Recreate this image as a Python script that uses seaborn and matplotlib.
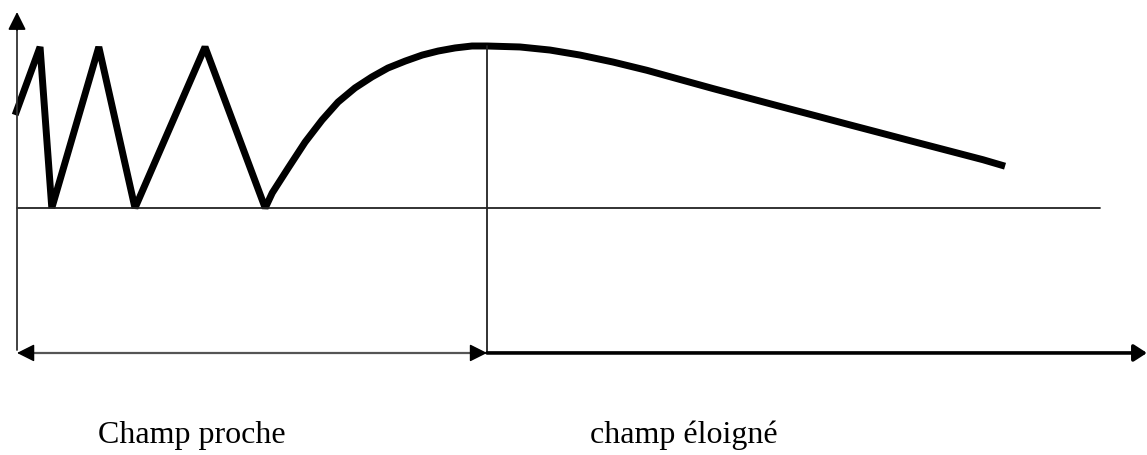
import matplotlib
matplotlib.use("Agg")
import matplotlib.pyplot as plt
import pandas as pd
import seaborn as sns

# near field: zig-zag oscillations, then the rise to the maximum (distance, amplitude)
near_x = [-0.04, 0.49, 0.74, 1.74, 2.51, 4.00, 5.28,
          5.43, 5.77, 6.13, 6.49, 6.83, 7.19, 7.55, 7.89, 8.26, 8.62, 8.96, 9.32, 9.68, 10.0]
near_y = [0.574, 0.994, 0.0, 0.994, 0.0, 0.994, 0.0,
          0.093, 0.247, 0.407, 0.543, 0.654, 0.741, 0.809, 0.864, 0.907, 0.944, 0.969, 0.988, 1.0, 1.0]

# far field: slow decay
far_x = [10.70, 11.34, 11.98, 12.68, 13.40, 14.11, 14.81, 15.60, 16.30,
         17.02, 17.72, 18.43, 19.15, 19.85, 20.55, 21.02]
far_y = [0.994, 0.975, 0.944, 0.901, 0.850, 0.793, 0.737, 0.676, 0.622,
         0.567, 0.513, 0.459, 0.404, 0.351, 0.298, 0.258]

boundary = 10.0
axis_end = 23.04
arrow_end = 24.04
labels = ["Champ proche", "champ éloigné"]
label_x = [1.72, 12.19]

sns.set_theme(style="white")
plt.rcParams["font.family"] = ["Liberation Serif", "DejaVu Serif"]

df = pd.DataFrame({"x": near_x + far_x, "y": near_y + far_y})

fig = plt.figure(figsize=(11.47, 4.55), dpi=100)
ax = fig.add_axes([0, 0, 1, 1])
ax.set_xlim(-0.362, 24.04)
ax.set_ylim(-1.525, 1.284)
ax.axis("off")

sns.lineplot(data=df, x="x", y="y", sort=False, estimator=None, color="black",
             linewidth=5, ax=ax, solid_joinstyle="bevel", solid_capstyle="butt")

# axes lines
ax.plot([0, axis_end], [0, 0], color="#222222", lw=1.3)
ax.plot([boundary, boundary], [1.0, -0.895], color="#222222", lw=1.3)
ax.plot([0, 0], [1.15, -0.877], color="#333333", lw=1.3)
ax.annotate("", xy=(0, 1.21), xytext=(0, 1.1),
            arrowprops=dict(arrowstyle="-|>,head_length=0.9,head_width=0.45",
                            color="black", lw=1.3, shrinkA=0, shrinkB=0))

# near-field double arrow: grey shaft, black heads
y_arr = -0.895
ax.plot([0.2, boundary - 0.2], [y_arr, y_arr], color="#555555", lw=1.6)
for tip, tail in [(0, 0.3), (boundary, boundary - 0.3)]:
    ax.annotate("", xy=(tip, y_arr), xytext=(tail, y_arr),
                arrowprops=dict(arrowstyle="-|>,head_length=0.9,head_width=0.45",
                                color="black", lw=1.0, shrinkA=0, shrinkB=0))
# far-field arrow
ax.annotate("", xy=(arrow_end, y_arr), xytext=(boundary, y_arr),
            arrowprops=dict(arrowstyle="-|>,head_length=0.65,head_width=0.42",
                            color="black", lw=2.6, shrinkA=0, shrinkB=0))

for lx, txt in zip(label_x, labels):
    ax.text(lx, -1.45, txt, fontsize=23, color="black", ha="left", va="baseline")

fig.savefig("out.png", dpi=100)
